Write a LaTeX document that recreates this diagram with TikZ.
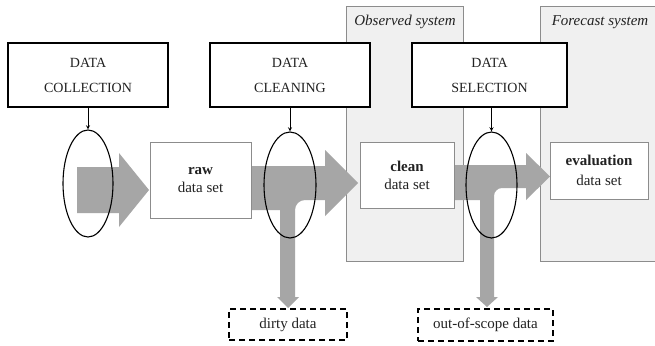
\documentclass[tikz,border=0pt]{standalone}
\usepackage{fontspec}
\setmainfont{Liberation Serif}
\usetikzlibrary{shapes.geometric}
\definecolor{panelfill}{HTML}{F0F0F0}
\definecolor{panelline}{HTML}{8C8C8C}
\definecolor{flowgray}{HTML}{A6A6A6}
\definecolor{txt}{HTML}{222222}
\begin{document}
\begin{tikzpicture}[x=1pt,y=-1pt,
  stepbox/.style={draw=black,line width=1.3pt,fill=white,minimum width=160pt,minimum height=64pt,
    align=center,text=txt,font=\fontsize{14}{25}\selectfont,inner sep=0pt},
  setbox/.style={draw=panelline,line width=1pt,fill=white,align=center,text=txt,
    font=\fontsize{15}{18}\selectfont,inner sep=0pt},
  outbox/.style={draw=black,line width=1.4pt,dashed,dash pattern=on 6pt off 4pt,fill=white,
    align=center,text=txt,font=\fontsize{15}{18}\selectfont,inner sep=0pt},
  gate/.style={ellipse,draw=black,line width=1.1pt,inner sep=0pt},
  flow/.style={fill=flowgray,draw=none},
  link/.style={->,>=stealth,line width=0.9pt,black},
  panellabel/.style={text=txt,font=\fontsize{15}{18}\selectfont\itshape}]
\useasboundingbox (0,0) rectangle (655,345);
\fill[white] (0,0) rectangle (655,345);
% panels
\filldraw[fill=panelfill,draw=panelline,line width=1pt] (346,7) rectangle (463,261);
\fill[panelfill] (540,7) rectangle (655,261);
\draw[panelline,line width=1pt] (655,7) -- (540,7) -- (540,261) -- (655,261);
\node[panellabel] (obs) at (405,22) {Observed system};
\node[panellabel] (fc) at (600,22) {Forecast system};
% flows
\fill[flow] (77,167) -- (119,167) -- (119,153) -- (149,190) -- (119,227) -- (119,213) -- (77,213) -- cycle;
\fill[flow] (245,166) -- (325,166) -- (325,150) -- (358,183) -- (325,216) -- (325,200)
  -- (305,200) .. controls (299.5,200) and (295,204.5) .. (295,210) -- (295,297) -- (299,297)
  -- (288,308) -- (277,297) -- (280,297) -- (280,210) -- (245,210) -- cycle;
\fill[flow] (450,165) -- (526,165) -- (526,153) -- (550,176.5) -- (526,200) -- (526,188)
  -- (502,188) .. controls (497.6,188) and (494,191.6) .. (494,196) -- (494,297) -- (498,297)
  -- (487,307) -- (476,297) -- (480,297) -- (480,200) -- (450,200) -- cycle;
% step boxes
\node[stepbox] (coll) at (88,75) {DATA\\COLLECTION};
\node[stepbox] (clng) at (290,75) {DATA\\CLEANING};
\node[stepbox,minimum width=155pt] (sel) at (489.5,75) {DATA\\SELECTION};
% data sets
\node[setbox,minimum width=101pt,minimum height=76pt] (raw) at (200.5,180) {\textbf{raw}\\data set};
\node[setbox,minimum width=94pt,minimum height=66pt] (cln) at (407,175) {\textbf{clean}\\data set};
\node[setbox,minimum width=98pt,minimum height=57pt,font=\fontsize{15}{20}\selectfont] (evl) at (599,170.5) {\textbf{evaluation}\\data set};
% gates
\node[gate,minimum width=50pt,minimum height=107pt] (g1) at (88,183.5) {};
\node[gate,minimum width=52pt,minimum height=106pt] (g2) at (290,185) {};
\node[gate,minimum width=51pt,minimum height=106pt] (g3) at (491.5,185) {};
\draw[link] (coll.south) -- (g1.north);
\draw[link] (clng.south) -- (g2.north);
\draw[link] (g3.north |- sel.south) -- (g3.north);
% outputs
\node[outbox,minimum width=118pt,minimum height=31pt] (dirty) at (288,324.5) {dirty data};
\node[outbox,minimum width=135pt,minimum height=32pt] (oos) at (485.5,325) {out-of-scope data};
\end{tikzpicture}
\end{document}
